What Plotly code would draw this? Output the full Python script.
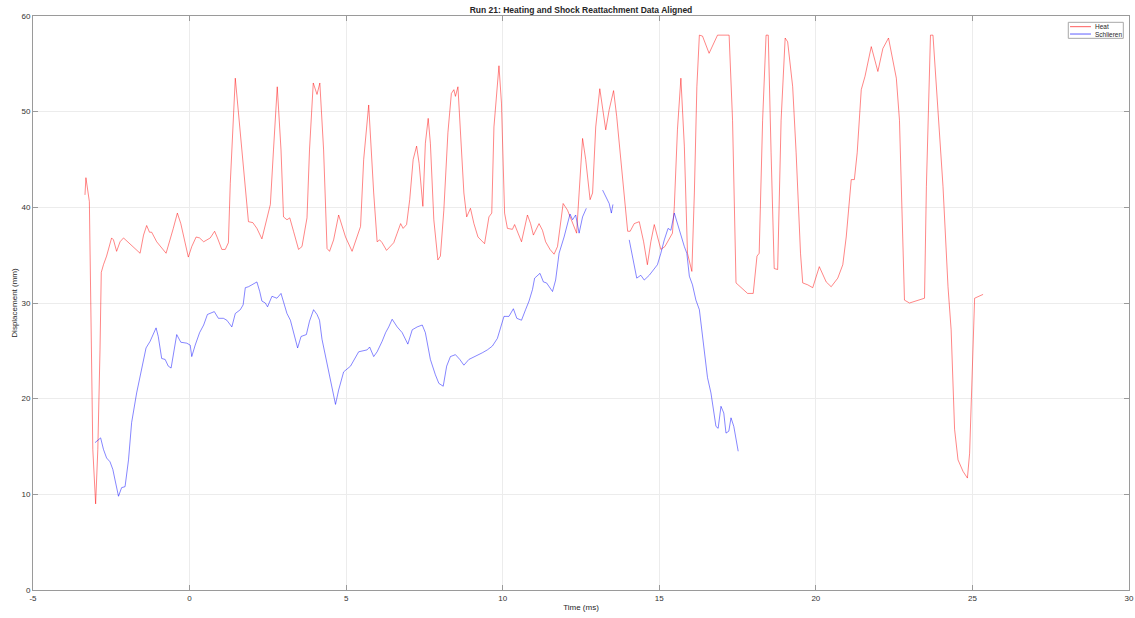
import plotly.graph_objects as go

heat_t = [-3.34, -3.31, -3.20, -3.15, -3.09, -3.00, -2.93, -2.86, -2.82, -2.75, -2.65, -2.49, -2.43, -2.33, -2.22,
          -2.11, -1.95, -1.79, -1.58, -1.47, -1.37, -1.28, -1.21, -1.05, -0.75, -0.52, -0.39, -0.28, -0.04, 0.07,
          0.21, 0.32, 0.45, 0.66, 0.80, 0.89, 1.03, 1.14, 1.24, 1.30, 1.35, 1.46, 1.67, 1.88, 2.02,
          2.15, 2.31, 2.47, 2.58, 2.68, 2.80, 2.92, 3.00, 3.11, 3.20, 3.32, 3.48, 3.59, 3.75, 3.83,
          3.95, 4.07, 4.16, 4.28, 4.39, 4.47, 4.60, 4.76, 4.98, 5.19, 5.46, 5.56, 5.72, 5.88, 5.99,
          6.07, 6.15, 6.29, 6.42, 6.52, 6.63, 6.74, 6.82, 6.93, 7.03, 7.14, 7.25, 7.33, 7.45, 7.53,
          7.62, 7.69, 7.80, 7.93, 8.01, 8.12, 8.25, 8.36, 8.44, 8.49, 8.57, 8.65, 8.76, 8.85, 8.97,
          9.08, 9.21, 9.42, 9.56, 9.65, 9.72, 9.88, 9.96, 10.06, 10.15, 10.31, 10.38, 10.49, 10.60, 10.79,
          10.89, 10.98, 11.16, 11.27, 11.37, 11.51, 11.64, 11.75, 11.85, 11.93, 12.07, 12.23, 12.36, 12.44, 12.55,
          12.65, 12.79, 12.87, 12.97, 13.10, 13.29, 13.40, 13.54, 13.64, 13.83, 13.99, 14.07, 14.20, 14.36, 14.50,
          14.62, 14.73, 14.84, 14.94, 15.05, 15.18, 15.42, 15.48, 15.58, 15.69, 15.80, 15.90, 16.04, 16.12, 16.20,
          16.28, 16.38, 16.59, 16.86, 17.23, 17.34, 17.45, 17.61, 17.82, 18.00, 18.12, 18.19, 18.30, 18.41, 18.48,
          18.57, 18.67, 18.78, 18.89, 19.02, 19.10, 19.26, 19.37, 19.51, 19.58, 19.74, 19.90, 20.11, 20.33, 20.49,
          20.70, 20.86, 20.97, 21.13, 21.23, 21.32, 21.45, 21.57, 21.77, 21.98, 22.14, 22.32, 22.57, 22.67, 22.83,
          22.99, 23.26, 23.47, 23.53, 23.66, 23.74, 23.90, 24.06, 24.22, 24.32, 24.43, 24.54, 24.70, 24.84, 24.91,
          25.02, 25.07, 25.34]
heat_d = [41.3, 43.1, 40.6, 30.3, 14.7, 9.0, 14.7, 25.1, 33.2, 34.0, 34.9, 36.8, 36.6, 35.4, 36.4,
          36.8, 36.3, 35.9, 35.2, 37.1, 38.1, 37.4, 37.4, 36.4, 35.2, 37.8, 39.4, 38.3, 34.8, 35.9,
          36.9, 36.8, 36.4, 36.8, 37.5, 36.8, 35.6, 35.6, 36.3, 42.5, 46.0, 53.5, 46.0, 38.5, 38.4,
          37.8, 36.7, 39.0, 40.3, 46.0, 52.6, 46.0, 39.0, 38.7, 38.9, 37.5, 35.6, 35.9, 38.9, 46.0,
          53.0, 51.8, 53.0, 46.0, 35.7, 35.4, 36.6, 39.2, 36.9, 35.4, 38.0, 45.0, 50.7, 41.5, 36.4,
          36.6, 36.3, 35.5, 35.9, 36.3, 37.3, 38.3, 37.8, 38.2, 40.8, 45.0, 46.4, 44.6, 40.1, 46.7,
          49.3, 46.7, 38.7, 34.5, 34.9, 39.7, 47.8, 51.9, 52.3, 51.6, 52.6, 48.4, 41.5, 39.0, 39.9,
          38.3, 36.9, 36.2, 39.0, 39.4, 48.4, 54.8, 50.9, 39.4, 37.8, 37.7, 38.2, 37.3, 36.4, 39.2,
          38.3, 37.1, 38.3, 37.6, 36.4, 35.6, 35.1, 35.9, 38.7, 40.4, 39.7, 38.3, 37.3, 41.5, 47.2,
          45.0, 40.8, 41.5, 48.4, 52.4, 48.1, 50.2, 52.2, 49.5, 43.2, 37.5, 37.5, 38.3, 38.5, 36.4,
          34.0, 36.4, 38.2, 36.8, 35.6, 35.9, 37.3, 40.1, 48.1, 53.5, 46.4, 35.2, 33.3, 41.5, 52.6,
          58.0, 57.9, 56.1, 58.0, 58.0, 49.1, 32.1, 31.6, 31.0, 31.0, 34.9, 35.2, 49.1, 58.0, 58.0,
          45.7, 33.6, 33.5, 49.1, 57.7, 57.3, 52.6, 45.7, 35.2, 32.1, 31.9, 31.6, 33.8, 32.2, 31.7,
          32.6, 34.0, 36.9, 42.9, 42.9, 45.7, 52.3, 53.7, 56.8, 54.2, 56.6, 57.7, 53.5, 49.1, 30.3,
          30.0, 30.3, 30.5, 42.2, 58.0, 58.0, 50.2, 42.2, 31.7, 27.2, 16.8, 13.6, 12.4, 11.7, 14.3,
          24.8, 30.5, 30.9]

schl_t = [-3.02, -2.91, -2.84, -2.75, -2.65, -2.54, -2.45, -2.38, -2.27, -2.17, -2.06, -1.95, -1.85, -1.69, -1.53,
          -1.39, -1.26, -1.15, -1.07, -1.00, -0.89, -0.78, -0.68, -0.59, -0.49, -0.41, -0.28, -0.09, 0.02, 0.07,
          0.18, 0.32, 0.45, 0.57, 0.79, 0.92, 1.08, 1.19, 1.35, 1.46, 1.62, 1.71, 1.78, 1.88, 1.99,
          2.15, 2.24, 2.31, 2.42, 2.49, 2.63, 2.79, 2.92, 3.00, 3.11, 3.22, 3.32, 3.45, 3.56, 3.73,
          3.83, 3.96, 4.07, 4.15, 4.23, 4.39, 4.52, 4.66, 4.76, 4.92, 5.14, 5.30, 5.40, 5.67, 5.75,
          5.88, 5.99, 6.15, 6.26, 6.36, 6.47, 6.63, 6.79, 6.97, 7.11, 7.27, 7.43, 7.53, 7.69, 7.85,
          7.96, 8.10, 8.21, 8.33, 8.49, 8.63, 8.76, 8.92, 9.13, 9.35, 9.51, 9.67, 9.83, 9.93, 10.04,
          10.20, 10.34, 10.45, 10.60, 10.73, 10.84, 10.95, 11.02, 11.19, 11.30, 11.40, 11.59, 11.69, 11.80, 11.96,
          12.07, 12.15, 12.23, 12.33, 12.44, 12.55, 12.67,
          None,
          13.19, 13.29, 13.40, 13.47, 13.52,
          None,
          14.04, 14.15, 14.28, 14.41, 14.52, 14.68, 14.84, 14.94, 15.05, 15.16, 15.28, 15.37, 15.48, 15.58, 15.69,
          15.80, 15.88, 15.96, 16.06, 16.17, 16.28, 16.35, 16.43, 16.54, 16.65, 16.74, 16.81, 16.88, 16.97, 17.06,
          17.13, 17.22, 17.29, 17.38, 17.45, 17.52]
schl_d = [15.4, 15.7, 15.9, 14.7, 13.8, 13.4, 12.6, 11.5, 9.8, 10.7, 10.8, 13.6, 17.5, 20.6, 23.0,
          25.3, 26.0, 26.9, 27.4, 26.5, 24.2, 24.1, 23.4, 23.2, 25.1, 26.7, 25.9, 25.8, 25.6, 24.4,
          25.6, 26.9, 27.7, 28.8, 29.1, 28.4, 28.4, 28.2, 27.5, 28.9, 29.3, 29.8, 31.6, 31.7, 31.9,
          32.2, 31.2, 30.2, 30.0, 29.6, 30.7, 30.5, 31.0, 30.0, 28.9, 28.2, 27.0, 25.3, 26.5, 26.7,
          28.1, 29.3, 28.8, 28.2, 26.2, 23.7, 21.3, 19.4, 20.9, 22.8, 23.4, 24.4, 24.9, 25.1, 25.4,
          24.4, 24.9, 26.0, 26.9, 27.5, 28.3, 27.5, 26.9, 25.7, 27.2, 27.5, 27.7, 26.9, 24.1, 22.5,
          21.6, 21.3, 23.4, 24.4, 24.6, 24.1, 23.5, 24.1, 24.4, 24.8, 25.1, 25.5, 26.3, 27.5, 28.6,
          28.6, 29.4, 28.4, 28.2, 29.3, 30.2, 31.4, 32.6, 33.1, 32.2, 32.1, 31.2, 32.4, 35.2, 36.9,
          38.3, 39.3, 38.7, 39.2, 37.3, 39.0, 39.9,
          None,
          41.8, 41.1, 40.4, 39.4, 40.3,
          None,
          36.6, 34.9, 32.6, 32.9, 32.4, 32.9, 33.6, 34.0, 35.2, 36.6, 37.8, 37.6, 39.4, 38.3, 36.9,
          35.9, 35.2, 32.8, 31.9, 30.3, 29.3, 27.2, 24.8, 22.2, 20.6, 18.8, 17.1, 16.9, 19.2, 18.5,
          16.4, 16.6, 18.0, 17.1, 15.7, 14.5]

x_ticks = [-5, 0, 5, 10, 15, 20, 25, 30]
y_ticks = [0, 10, 20, 30, 40, 50, 60]
series_names = ["Heat", "Schlieren"]
series_colors = ["rgba(255,0,0,0.8)", "rgba(0,0,255,0.8)"]

fig = go.Figure()
fig.add_trace(go.Scatter(x=heat_t, y=heat_d, mode="lines", name=series_names[0],
                         line=dict(color=series_colors[0], width=0.6)))
fig.add_trace(go.Scatter(x=schl_t, y=schl_d, mode="lines", name=series_names[1], connectgaps=False,
                         line=dict(color=series_colors[1], width=0.6)))

axis_common = dict(showline=True, mirror="ticks", linecolor="#9a9a9a", linewidth=1,
                   ticks="inside", ticklen=5, tickcolor="#9a9a9a", tickwidth=1,
                   showgrid=True, gridcolor="#ececec", gridwidth=1, zeroline=False,
                   automargin=False, ticklabeloverflow="allow",
                   tickfont=dict(size=8, color="#333333"))

# compact MATLAB-style legend drawn in paper coordinates
shapes = [dict(type="rect", xref="paper", yref="paper", x0=0.9446, x1=0.9948, y0=0.9611, y1=0.9890,
               line=dict(color="#a8a8a8", width=1), fillcolor="white", layer="above")]
annotations = []
legend_y = [0.9814, 0.9686]
for name, col, ly in zip(series_names, series_colors, legend_y):
    shapes.append(dict(type="line", xref="paper", yref="paper", x0=0.9462, x1=0.9653, y0=ly, y1=ly,
                       line=dict(color=col, width=0.8), layer="above"))
    annotations.append(dict(xref="paper", yref="paper", x=0.9668, y=ly, xanchor="left", yanchor="middle",
                            text=name, showarrow=False, font=dict(size=6.5, color="#262626")))

fig.update_layout(
    width=1135, height=618,
    margin=dict(l=33, r=6, t=16, b=28),
    paper_bgcolor="white", plot_bgcolor="white",
    font=dict(family="Liberation Sans, Arial, sans-serif", size=8, color="#262626"),
    title=dict(text="<b>Run 21: Heating and Shock Reattachment Data Aligned</b>",
               x=0.5119, xanchor="center", y=0.984, yanchor="middle",
               font=dict(size=8.5, color="#262626")),
    xaxis=dict(range=[-5, 30], tickvals=x_ticks, ticktext=[str(v) for v in x_ticks],
               title=dict(text="Time (ms)", standoff=2, font=dict(size=8)), **axis_common),
    yaxis=dict(range=[0, 60], tickvals=y_ticks, ticktext=[str(v) for v in y_ticks],
               title=dict(text="Displacement (mm)", standoff=2, font=dict(size=8)), **axis_common),
    showlegend=False,
    shapes=shapes,
    annotations=annotations,
)

fig.write_html("out.html",
               config={"displayModeBar": False},
               post_script="document.body.style.margin='0';document.body.style.overflow='hidden';")
